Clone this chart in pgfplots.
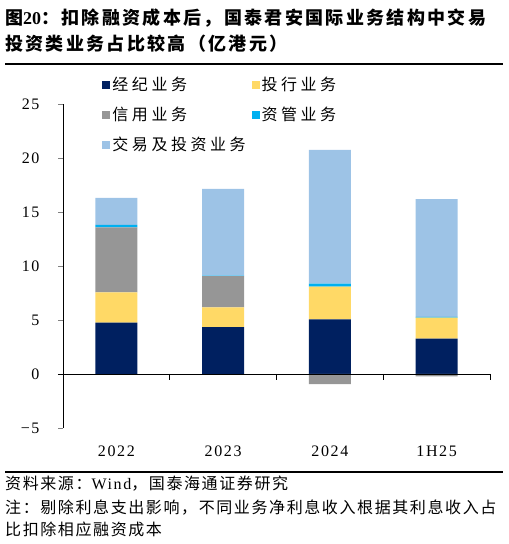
\documentclass[border=0pt]{standalone}
\usepackage{fontspec}
\usepackage{pgfplots}
\pgfplotsset{compat=1.18}
\usepackage{pgfplotstable}
\setmainfont{Liberation Serif}
\newfontfamily\cjk{Noto Sans CJK SC}
\newfontfamily\cjktitle[LetterSpace=13]{Noto Sans CJK SC}
\newfontfamily\cjkleg[LetterSpace=22]{Noto Sans CJK SC}
\newfontfamily\cjknote[LetterSpace=10]{Noto Sans CJK SC}
\newfontfamily\numfont[LetterSpace=10]{Liberation Serif}

\definecolor{cnavy}{HTML}{002060}
\definecolor{cyellow}{HTML}{FFD966}
\definecolor{cgray}{HTML}{969696}
\definecolor{ccyan}{HTML}{00B0F0}
\definecolor{clblue}{HTML}{9DC3E6}

% stacked positive parts (gray set to 0 where negative)
\pgfplotstableread{
x  navy  yellow gray  cyan  lblue
0  4.75  2.81   6.02  0.22  2.50
1  4.35  1.82   2.90  0.05  8.01
2  5.06  3.03   0     0.28  12.38
3  3.27  1.95   0     0.06  10.92
}\bars
% negative credit business
\pgfplotstableread{
x  gray
2  -0.93
3  -0.22
}\negbars

\begin{document}
\begin{tikzpicture}
\path[use as bounding box] (0,0) rectangle (509bp,544bp);

% title
\node[anchor=base west, inner sep=0] at (5bp,519bp)
  {\cjktitle\fontsize{18bp}{20bp}\selectfont\bfseries 图{\fontspec{Liberation Serif}\fontsize{18bp}{20bp}\selectfont\bfseries 20}：扣除融资成本后，国泰君安国际业务结构中交易};
\node[anchor=base west, inner sep=0] at (5bp,493bp)
  {\cjktitle\fontsize{18bp}{20bp}\selectfont\bfseries 投资类业务占比较高（亿港元）};
\draw[line width=1.3bp] (5bp,480bp) -- (503bp,480bp);

\begin{axis}[
  name=main,
  at={(63bp,116bp)}, anchor=south west,
  scale only axis,
  width=427bp, height=324bp,
  ybar stacked,
  bar width=42bp,
  xmin=-0.5, xmax=3.5,
  ymin=-5, ymax=25,
  axis y line*=left,
  axis x line*=bottom,
  x axis line style={draw=none},
  xtick={0,1,2,3},
  xticklabels={2022,2023,2024,1H25},
  xtick style={draw=none},
  xticklabel style={font=\numfont\fontsize{16bp}{18bp}\selectfont, anchor=north, yshift=-9bp},
  ytick={-5,0,5,10,15,20,25},
  yticklabels={−5,0,5,10,15,20,25},
  yticklabel style={font=\numfont\fontsize{16bp}{18bp}\selectfont, anchor=east, xshift=-15bp},
  tick align=outside,
  major tick length=5bp,
  y axis line style={line width=0.8bp},
  ytick style={line width=0.8bp},
  legend columns=2,
  legend cell align=left,
  legend style={draw=none, fill=none, at={(0.085,1.095)}, anchor=north west,
    font=\cjkleg\fontsize{16bp}{18bp}\selectfont,
    /tikz/every even column/.append style={column sep=4bp},
    row sep=11bp},
  legend image code/.code={\fill[#1] (0bp,-4bp) rectangle (8bp,4bp);},
]
\addplot[fill=cnavy, draw=none] table[x=x, y=navy] {\bars};
\addlegendentry{经纪业务}
\addplot[fill=cyellow, draw=none] table[x=x, y=yellow] {\bars};
\addlegendentry{投行业务}
\addplot[fill=cgray, draw=none] table[x=x, y=gray] {\bars};
\addlegendentry{信用业务}
\addplot[fill=ccyan, draw=none] table[x=x, y=cyan] {\bars};
\addlegendentry{资管业务}
\addplot[fill=clblue, draw=none] table[x=x, y=lblue] {\bars};
\addlegendentry{交易及投资业务}
\end{axis}

\begin{axis}[
  at={(63bp,116bp)}, anchor=south west,
  scale only axis,
  width=427bp, height=324bp,
  ybar, bar width=42bp,
  xmin=-0.5, xmax=3.5,
  ymin=-5, ymax=25,
  hide axis,
  clip=false,
]
\addplot[fill=cgray, draw=none] table[x=x, y=gray] {\negbars};
% zero line and category separators
\draw[line width=0.8bp] (axis cs:-0.547,0) -- (axis cs:3.5,0);
\draw[line width=0.8bp] (axis cs:0.5,0) -- (axis cs:0.5,-0.56);
\draw[line width=0.8bp] (axis cs:1.5,0) -- (axis cs:1.5,-0.56);
\draw[line width=0.8bp] (axis cs:2.5,0) -- (axis cs:2.5,-0.56);
\draw[line width=0.8bp] (axis cs:3.5,0) -- (axis cs:3.5,-0.56);
\end{axis}

% source and note
\draw[line width=1.3bp] (5bp,72bp) -- (503bp,72bp);
\node[anchor=base west, inner sep=0] at (5bp,54bp)
  {\cjknote\fontsize{16bp}{18bp}\selectfont 资料来源：{\numfont Wind}，国泰海通证券研究};
\node[anchor=base west, inner sep=0] at (5bp,31bp)
  {\cjknote\fontsize{16bp}{18bp}\selectfont 注：剔除利息支出影响，不同业务净利息收入根据其利息收入占};
\node[anchor=base west, inner sep=0] at (5bp,9bp)
  {\cjknote\fontsize{16bp}{18bp}\selectfont 比扣除相应融资成本};
\end{tikzpicture}
\end{document}
